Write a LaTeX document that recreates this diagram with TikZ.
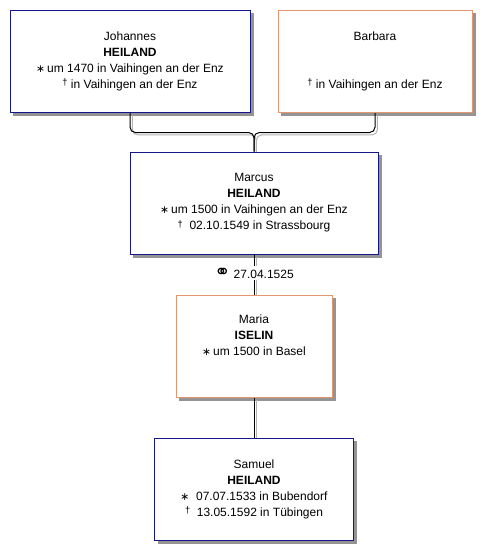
\documentclass[tikz,border=0pt]{standalone}
\usepackage{fontspec}
\setmainfont{Liberation Sans}
\newfontfamily\symfont{DejaVu Sans}
\usetikzlibrary{positioning,backgrounds}

\definecolor{maleblue}{RGB}{22,22,140}
\definecolor{femaleorange}{RGB}{228,150,112}
\newcommand{\born}{{\symfont\footnotesize ∗}}
\newcommand{\died}{\raisebox{0.45ex}{\scriptsize †}}
\newcommand{\married}{{\symfont\Large ⚭}}

\begin{document}
\begin{tikzpicture}[x=0.75pt, y=-0.75pt,
  person/.style={draw, fill=white, line width=0.75pt, align=center, minimum height=76.5pt,
    font=\fontsize{9}{12}\selectfont},
  male/.style={person, draw=maleblue},
  female/.style={person, draw=femaleorange},
  boxshadow/.style={fill=black!42},
  link/.style={line width=0.75pt, rounded corners=4pt}]
\useasboundingbox (0,0) rectangle (491,558);

\node[male, minimum width=180pt] (johannes) at (130,61)
  {Johannes\\ \textbf{HEILAND}\\ \born\,um 1470 in Vaihingen an der Enz\\ \died\ in Vaihingen an der Enz};
\node[female, minimum width=145.5pt, right=20.25pt of johannes] (barbara)
  {Barbara\\[24pt] \died\ in Vaihingen an der Enz};
\node[male, minimum width=186pt] (marcus) at (254,203)
  {Marcus\\ \textbf{HEILAND}\\ \born\,um 1500 in Vaihingen an der Enz\\ \died\ \ 02.10.1549 in Strassbourg};
\node[female, minimum width=117pt, below=30pt of marcus] (maria)
  {Maria\\ \textbf{ISELIN}\\ \born\,um 1500 in Basel\\ \strut};
\node[male, minimum width=149pt, below=30pt of maria] (samuel)
  {Samuel\\ \textbf{HEILAND}\\ \born\ \ 07.07.1533 in Bubendorf\\ \died\ \ 13.05.1592 in Tübingen};
\node[fill=white, inner sep=1pt, font=\fontsize{9}{12}\selectfont] (wedding) at (254,273)
  {\married\ 27.04.1525};
\coordinate (join) at ([yshift=14.25pt]marcus.north);

\begin{scope}[on background layer]
\foreach \p in {johannes, barbara, marcus, maria, samuel}
  \fill[boxshadow] ([xshift=2.6pt,yshift=-2.6pt]\p.south west) rectangle ([xshift=2.6pt,yshift=-2.6pt]\p.north east);
\foreach \col/\d in {black!30/1.8pt, black/0pt}{
  \begin{scope}[transform canvas={shift={(\d,-\d)}}]
    \draw[link, \col] (johannes.south) |- (join) -- (marcus.north);
    \draw[link, \col] (barbara.south) |- (join) -- (marcus.north);
    \draw[link, \col] (marcus.south) -- (maria.north);
    \draw[link, \col] (maria.south) -- (samuel.north);
  \end{scope}
}
\end{scope}
\end{tikzpicture}
\end{document}
